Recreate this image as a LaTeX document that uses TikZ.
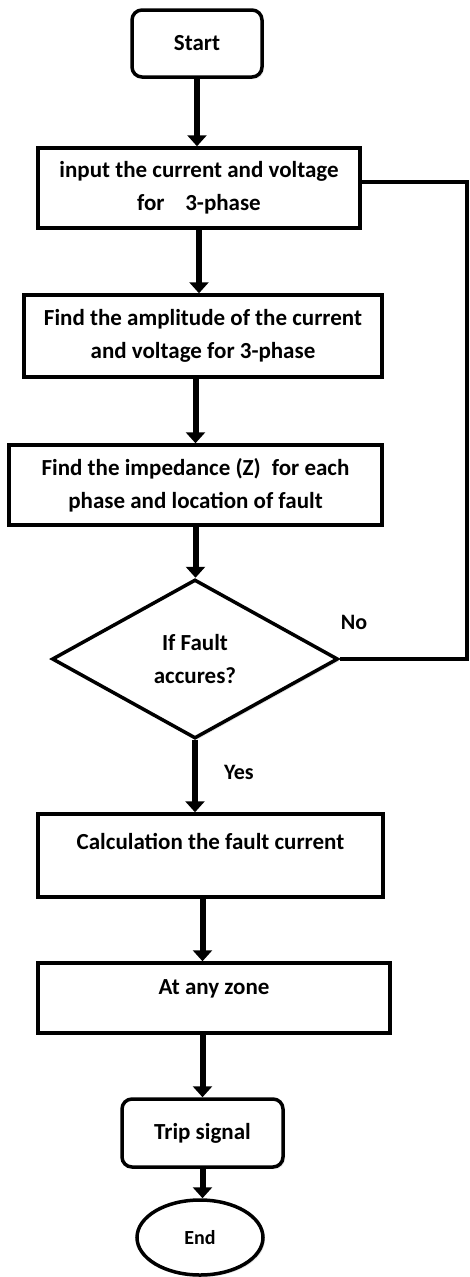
\documentclass[tikz,border=0pt]{standalone}
\usepackage{fontspec}
\setmainfont{Carlito}
\usetikzlibrary{arrows.meta,shapes.geometric,shadows}
\begin{document}
\begin{tikzpicture}[x=1pt,y=-1pt,line join=miter,
  box/.style={draw,line width=3.5pt,fill=white,align=center,inner sep=4pt,
    font=\bfseries\fontsize{23}{33}\selectfont,
    drop shadow={shadow xshift=2pt,shadow yshift=-2pt,opacity=0.2}},
  term/.style={box,rounded corners=10pt},
  toptext/.style={text depth=#1},
  flow/.style={line width=6pt,-{Triangle[width=19pt,length=11pt]}},
  back/.style={line width=3.5pt},
  lbl/.style={font=\bfseries\fontsize{22}{26}\selectfont}]
  \useasboundingbox (0,0) rectangle (469,1277);
  \node[term,minimum width=130pt,minimum height=67pt] (start) at (197,43.5) {Start};
  \node[box,minimum width=322pt,minimum height=80pt] (input) at (199,188) {input the current and voltage\\for\hspace{0.9em}3-phase};
  \node[box,minimum width=358pt,minimum height=82pt] (ampl) at (203,336) {Find the amplitude of the current\\and voltage for 3-phase};
  \node[box,minimum width=373pt,minimum height=80pt] (imped) at (195.5,485) {Find the impedance (Z)\hspace{0.25em} for each\\phase and location of fault};
  \node[box,diamond,minimum width=286pt,minimum height=159pt,inner sep=0pt] (fault) at (195,659) {If Fault\\accures?};
  \node[box,toptext=28pt,minimum width=345pt,minimum height=83pt] (calc) at (210.5,855.5) {Calculation the fault current};
  \node[box,toptext=22pt,minimum width=352pt,minimum height=70pt] (zone) at (214,998) {At any zone};
  \node[term,minimum width=161pt,minimum height=68pt] (trip) at (202.5,1133) {Trip signal};
  \node[box,ellipse,minimum width=126pt,minimum height=75pt,font=\bfseries\fontsize{20}{24}\selectfont] (end) at (200,1237.5) {End};
  \node[lbl] (no) at (354,622) {No};
  \node[lbl] (yes) at (239,772) {Yes};
  \coordinate (loop) at (467,182);
  \draw[flow] (start.south) -- (start.south |- input.north);
  \draw[flow] (input.south) -- (input.south |- ampl.north);
  \draw[flow] (imped.north |- ampl.south) -- (imped.north);
  \draw[flow] (imped.south) -- (imped.south |- fault.north);
  \draw[flow] (fault.south) -- (fault.south |- calc.north);
  \draw[flow] (trip.north |- calc.south) -- (trip.north |- zone.north);
  \draw[flow] (trip.north |- zone.south) -- (trip.north);
  \draw[flow] (trip.south) -- (trip.south |- end.north);
  \draw[back] (fault.east) -- (fault.east -| loop) -- (loop) -- (loop -| input.east);
\end{tikzpicture}
\end{document}
